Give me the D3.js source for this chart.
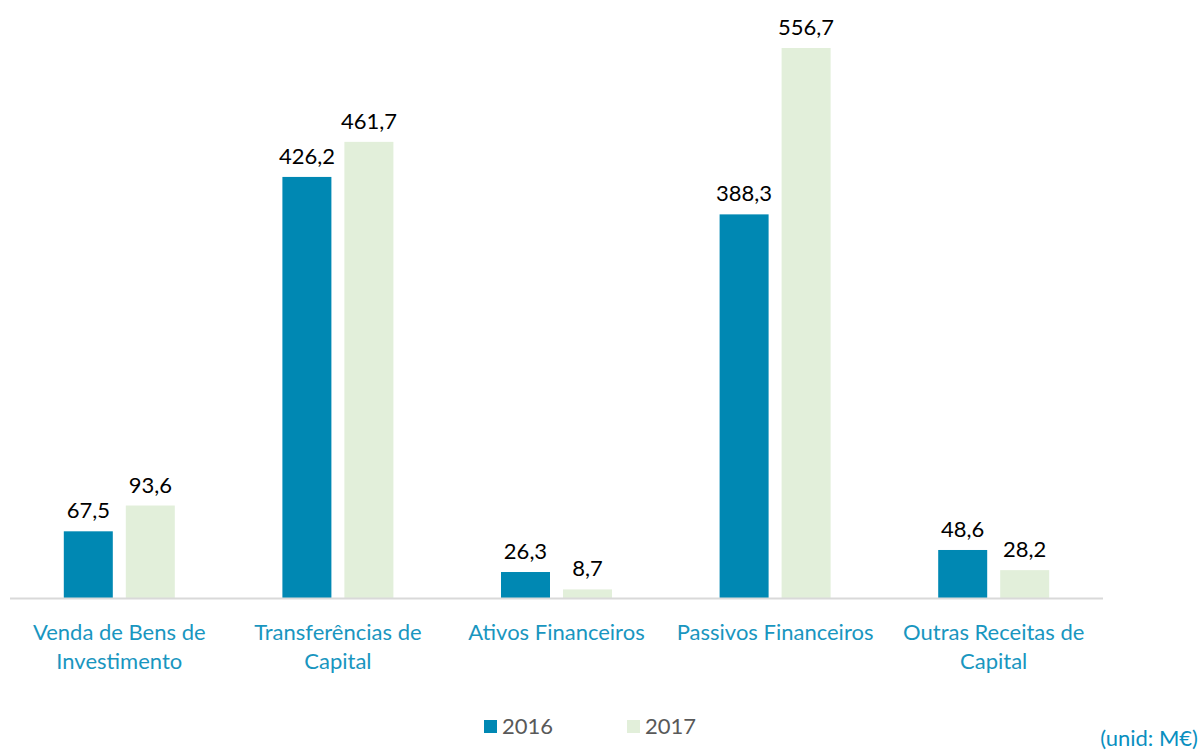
<!DOCTYPE html>
<html>
<head>
<meta charset="utf-8">
<script src="https://cdn.jsdelivr.net/npm/d3@7"></script>
<style>
  html, body { margin: 0; padding: 0; background: #fff; }
  svg { display: block; font-family: Lato, "Open Sans", sans-serif; }
</style>
</head>
<body>
<svg id="chart" width="1201" height="753"></svg>
<script>
const categories = [
  ["Venda de Bens de", "Investimento"],
  ["Transferências de", "Capital"],
  ["Ativos Financeiros"],
  ["Passivos Financeiros"],
  ["Outras Receitas de", "Capital"]
];
const seriesNames = ["2016", "2017"];
const values2016 = [67.5, 426.2, 26.3, 388.3, 48.6];
const values2017 = [93.6, 461.7, 8.7, 556.7, 28.2];
const colors = ["#0088b3", "#e2efda"];

const svg = d3.select("#chart");
const baseY = 598;
const x = d3.scaleBand().domain(d3.range(categories.length)).range([10, 1103]).padding(0);
const y = d3.scaleLinear().domain([0, 556.7]).range([baseY, 48]);
const barW = 49, gap = 13;
const fmt = v => d3.format(".1f")(v).replace(".", ",");

const series = [values2016, values2017];
series.forEach((vals, si) => {
  const g = svg.append("g");
  vals.forEach((v, i) => {
    const cx = x(i) + x.bandwidth() / 2;
    const bx = si === 0 ? cx - gap / 2 - barW : cx + gap / 2;
    g.append("rect")
      .attr("x", bx).attr("y", y(v))
      .attr("width", barW).attr("height", baseY - y(v))
      .attr("fill", colors[si]);
    g.append("text")
      .attr("x", bx + barW / 2).attr("y", y(v) - 13)
      .attr("text-anchor", "middle")
      .attr("font-size", 22).attr("fill", "#000")
      .text(fmt(v));
  });
});

// axis line
svg.append("line")
  .attr("x1", 10).attr("x2", 1103)
  .attr("y1", baseY + 0.5).attr("y2", baseY + 0.5)
  .attr("stroke", "#d9d9d9").attr("stroke-width", 2);

// category labels
categories.forEach((lines, i) => {
  const cx = x(i) + x.bandwidth() / 2;
  const t = svg.append("text")
    .attr("text-anchor", "middle")
    .attr("font-size", 22).attr("fill", "#1996bf");
  lines.forEach((l, j) => {
    t.append("tspan").attr("x", cx).attr("y", 640 + j * 29).text(l);
  });
});

// legend
const legendX = [484, 627];
seriesNames.forEach((n, i) => {
  svg.append("rect").attr("x", legendX[i]).attr("y", 720).attr("width", 13).attr("height", 13).attr("fill", colors[i]);
  svg.append("text").attr("x", legendX[i] + 18).attr("y", 734)
    .attr("font-size", 22).attr("fill", "#595959").text(n);
});

// unit label
svg.append("text").attr("x", 1198).attr("y", 746).attr("text-anchor", "end")
  .attr("font-size", 22).attr("fill", "#0a8fbf").text("(unid: M€)");
</script>
</body>
</html>
